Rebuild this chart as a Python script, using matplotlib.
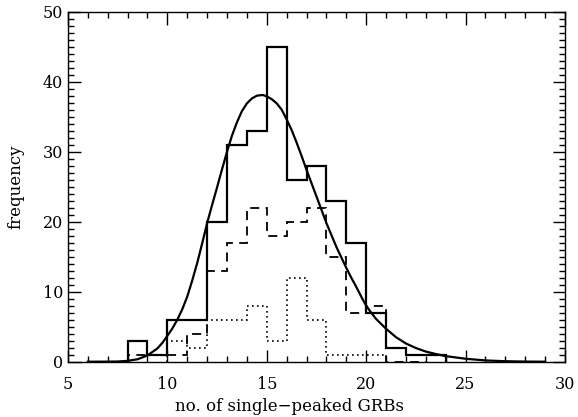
import matplotlib
matplotlib.use("Agg")
import matplotlib.pyplot as plt
from matplotlib.ticker import MultipleLocator

# bin edges (width 1) and histogram counts
solid_edges = list(range(8, 25))
solid_counts = [3, 1, 6, 6, 20, 31, 33, 45, 26, 28, 23, 17, 7, 2, 1, 1]

dashed_edges = list(range(8, 24))
dashed_counts = [1, 1, 1, 4, 13, 17, 22, 18, 20, 22, 15, 7, 8, 0, 0]

dotted_edges = list(range(10, 22))
dotted_counts = [3, 2, 6, 6, 8, 3, 12, 6, 1, 1, 1]

# fitted curve
curve_x = [6.0, 7.0, 7.5, 8.0, 8.5, 9.0, 9.5, 9.75, 10.0, 10.25, 10.5, 10.75, 11.0,
           11.25, 11.5, 11.75, 12.0, 12.25, 12.5, 12.75, 13.0, 13.25, 13.5, 13.75,
           14.0, 14.25, 14.5, 14.8, 15.0, 15.25, 15.5, 15.75, 16.0, 16.25, 16.5,
           16.75, 17.0, 17.25, 17.5, 17.75, 18.0, 18.25, 18.5, 18.75, 19.0, 19.25,
           19.5, 19.75, 20.0, 20.25, 20.5, 21.0, 21.5, 22.0, 22.5, 23.0, 23.5,
           24.0, 25.0, 26.0, 27.0, 28.0, 29.0]
curve_y = [0.0, 0.01, 0.03, 0.12, 0.35, 0.9, 1.9, 2.7, 3.7, 4.75, 6.0, 7.5, 9.3,
           11.6, 14.1, 16.9, 19.8, 22.4, 24.9, 27.5, 30.0, 32.3, 34.2, 35.8,
           36.9, 37.6, 38.0, 38.1, 37.9, 37.5, 36.9, 36.0, 34.6, 33.1, 31.3,
           29.4, 27.4, 25.5, 23.6, 21.7, 19.8, 18.1, 16.4, 14.9, 13.4, 12.0,
           10.7, 9.3, 8.0, 7.0, 6.1, 4.7, 3.5, 2.6, 1.95, 1.45, 1.1,
           0.8, 0.42, 0.18, 0.07, 0.02, 0.0]

plt.rcParams['font.family'] = ['DejaVu Serif']

fig = plt.figure(figsize=(5.78, 4.17), dpi=100)
ax = fig.add_axes([0.1176, 0.1326, 0.8599, 0.8394])

ax.stairs(solid_counts, solid_edges, baseline=0, color='black', lw=1.6)
ax.stairs(dashed_counts, dashed_edges, baseline=0, color='black', lw=1.3,
          linestyle=(0, (5, 3.5)))
ax.stairs(dotted_counts, dotted_edges, baseline=0, color='black', lw=1.2,
          linestyle=(0, (1, 2)))
ax.plot(curve_x, curve_y, color='black', lw=1.6)

ax.set_xlim(5, 30)
ax.set_ylim(0, 50)
ax.xaxis.set_major_locator(MultipleLocator(5))
ax.xaxis.set_minor_locator(MultipleLocator(1))
ax.yaxis.set_major_locator(MultipleLocator(10))
ax.yaxis.set_minor_locator(MultipleLocator(1))
ax.tick_params(which='both', direction='in', top=True, right=True, labelsize=11.5)
ax.tick_params(which='major', length=9, width=1)
ax.tick_params(which='minor', length=4.5, width=1)
ax.tick_params(axis='x', which='major', pad=10)
for s in ax.spines.values():
    s.set_linewidth(1)

ax.set_xlabel('no. of single\u2212peaked GRBs', fontsize=12)
ax.xaxis.set_label_coords(0.446, -0.105)
ax.set_ylabel('frequency', fontsize=12, labelpad=13)

fig.savefig('out.png', dpi=100)
